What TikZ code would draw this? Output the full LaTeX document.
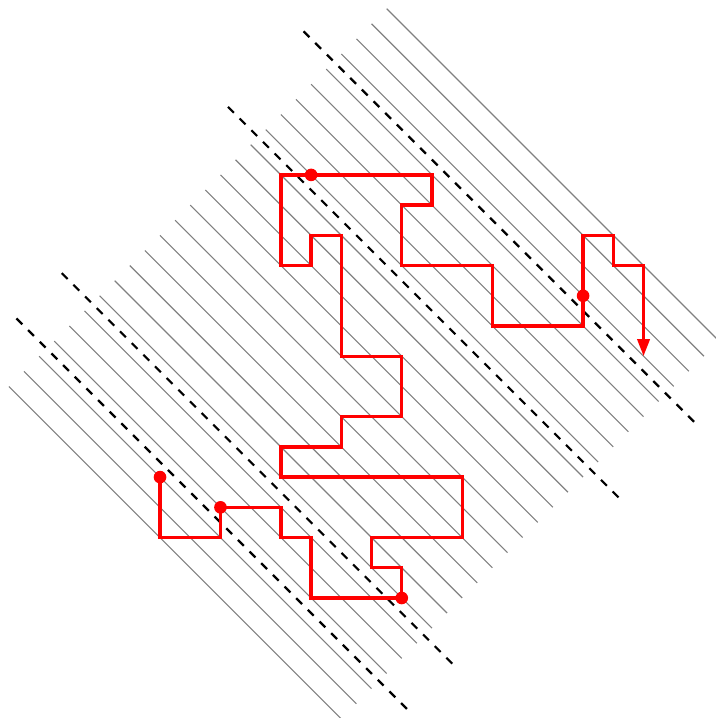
\documentclass[tikz,border=0pt]{standalone}
\usetikzlibrary{arrows.meta}
\begin{document}
\begin{tikzpicture}[x=11pt,y=11pt,
  gridline/.style={gray, line width=0.4pt},
  guide/.style={black, dashed, line width=0.8pt},
  walk/.style={red, line width=1.2pt, line join=miter},
  stopdot/.style={circle, fill=red, draw=none, inner sep=0pt, minimum size=4.6pt}]
\useasboundingbox (-5.295,-3.971) rectangle (18.365,19.788);
% diagonal grid lines
\foreach \k in {2,...,27}
  \draw[gridline] ({(\k-12)/2},{(\k+12)/2}) -- ({(\k+10)/2},{(\k-10)/2});
% dashed guide lines
\foreach \k in {4.5,7.5,18.5,23.5}
  \draw[guide] ({(\k-14)/2},{(\k+14)/2}) -- ({(\k+12)/2},{(\k-12)/2});
% named points
\coordinate (start) at (0,4);
\coordinate (p2) at (2,3);
\coordinate (p3) at (8,0);
\coordinate (p4) at (5,14);
\coordinate (p5) at (14,10);
\coordinate (finish) at (16,8);
% red walk
\draw[walk, -{Triangle[length=6.2pt,width=4.4pt]}]
  (start) -- (0,2) -- (2,2) -- (p2) -- (4,3) -- (4,2) -- (5,2) -- (5,0)
  -- (p3) -- (8,1) -- (7,1) -- (7,2) -- (10,2) -- (10,4) -- (4,4) -- (4,5)
  -- (6,5) -- (6,6) -- (8,6) -- (8,8) -- (6,8) -- (6,12) -- (5,12) -- (5,11)
  -- (4,11) -- (4,14) -- (p4) -- (9,14) -- (9,13) -- (8,13) -- (8,11) -- (11,11)
  -- (11,9) -- (14,9) -- (p5) -- (14,12) -- (15,12) -- (15,11) -- (16,11) -- (finish);
% dots
\node[stopdot] (d1) at (start) {};
\node[stopdot] (d2) at (p2) {};
\node[stopdot] (d3) at (p3) {};
\node[stopdot] (d4) at (p4) {};
\node[stopdot] (d5) at (p5) {};
\end{tikzpicture}
\end{document}
